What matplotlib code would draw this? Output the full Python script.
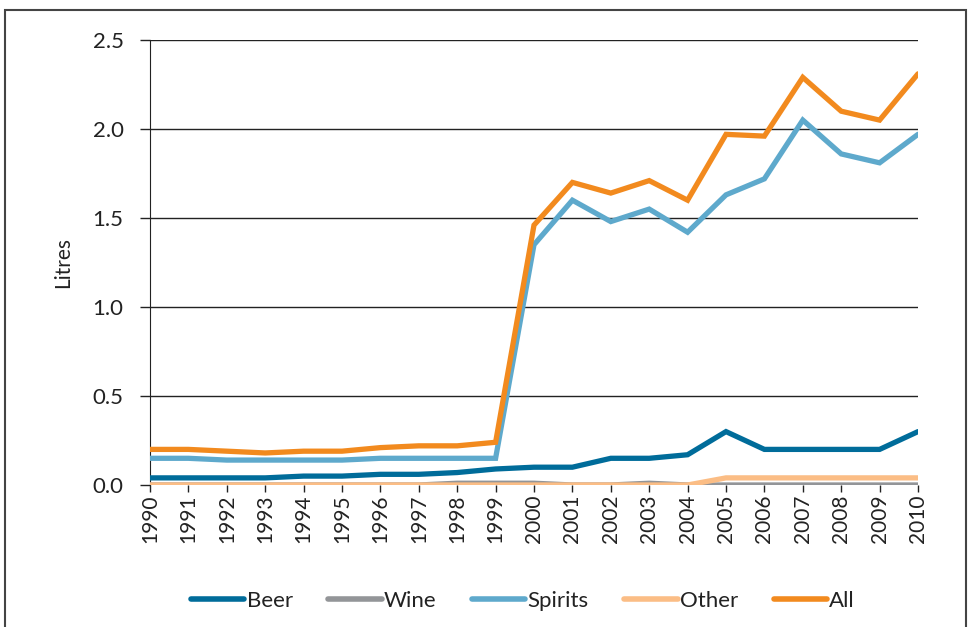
import matplotlib
matplotlib.use("Agg")
import matplotlib.pyplot as plt
from matplotlib.patches import Rectangle

plt.rcParams['font.family'] = ['Lato', 'DejaVu Sans']

years = list(range(1990, 2011))
beer = [0.04, 0.04, 0.04, 0.04, 0.05, 0.05, 0.06, 0.06, 0.07, 0.09, 0.10,
        0.10, 0.15, 0.15, 0.17, 0.30, 0.20, 0.20, 0.20, 0.20, 0.30]
wine = [0.0, 0.0, 0.0, 0.0, 0.0, 0.0, 0.0, 0.0, 0.01, 0.01, 0.01,
        0.0, 0.0, 0.01, 0.0, 0.0, 0.0, 0.0, 0.0, 0.0, 0.0]
spirits = [0.15, 0.15, 0.14, 0.14, 0.14, 0.14, 0.15, 0.15, 0.15, 0.15, 1.35,
           1.60, 1.48, 1.55, 1.42, 1.63, 1.72, 2.05, 1.86, 1.81, 1.97]
other = [0.0, 0.0, 0.0, 0.0, 0.0, 0.0, 0.0, 0.0, 0.0, 0.0, 0.0,
         0.0, 0.0, 0.0, 0.0, 0.04, 0.04, 0.04, 0.04, 0.04, 0.04]
all_ = [0.20, 0.20, 0.19, 0.18, 0.19, 0.19, 0.21, 0.22, 0.22, 0.24, 1.46,
        1.70, 1.64, 1.71, 1.60, 1.97, 1.96, 2.29, 2.10, 2.05, 2.31]

series = [("Beer", beer, "#006c9a"),
          ("Wine", wine, "#939598"),
          ("Spirits", spirits, "#5ea9cc"),
          ("Other", other, "#fbbd85"),
          ("All", all_, "#f28a1e")]

fig = plt.figure(figsize=(9.69, 6.27), dpi=100)
ax = fig.add_axes([150/969, 1-485/627, (918-150)/969, (485-40)/627])

for name, vals, col in series:
    ax.plot(years, vals, color=col, lw=3.8, label=name, solid_capstyle='round',
            solid_joinstyle='miter', zorder=3)

ax.set_xlim(1990, 2010)
ax.set_ylim(0, 2.5)
ax.set_yticks([0, 0.5, 1.0, 1.5, 2.0, 2.5])
ax.set_yticklabels(["0.0", "0.5", "1.0", "1.5", "2.0", "2.5"])
ax.set_xticks(years)
ax.set_xticklabels([str(y) for y in years], rotation=90)
ax.tick_params(axis='y', labelsize=16, colors='#222222', direction='out', length=7, width=1, pad=12)
ax.tick_params(axis='x', labelsize=15, colors='#222222', direction='out', length=5, width=1, pad=2)
ax.yaxis.grid(True, color='#222222', lw=1)
ax.set_axisbelow(True)
for s in ['top', 'right']:
    ax.spines[s].set_visible(False)
ax.spines['bottom'].set_visible(False)
ax.spines['left'].set_color('#222222')
ax.set_ylabel("Litres", fontsize=15, color='#222222', labelpad=14)

leg = fig.legend(loc='center', bbox_to_anchor=(523/969, 1-601/627), ncol=5,
                 frameon=False, fontsize=16, handlelength=2.4, handletextpad=0.1,
                 columnspacing=1.6, labelcolor='#222222')
for line in leg.get_lines():
    line.set_linewidth(4)
    line.set_solid_capstyle('round')

fig.patches.append(Rectangle((5/969, -0.05), (966-5)/969, 1-10/627+0.05,
                             transform=fig.transFigure, fill=False,
                             edgecolor='#444444', lw=1.5))

fig.savefig("out.png", dpi=100)
